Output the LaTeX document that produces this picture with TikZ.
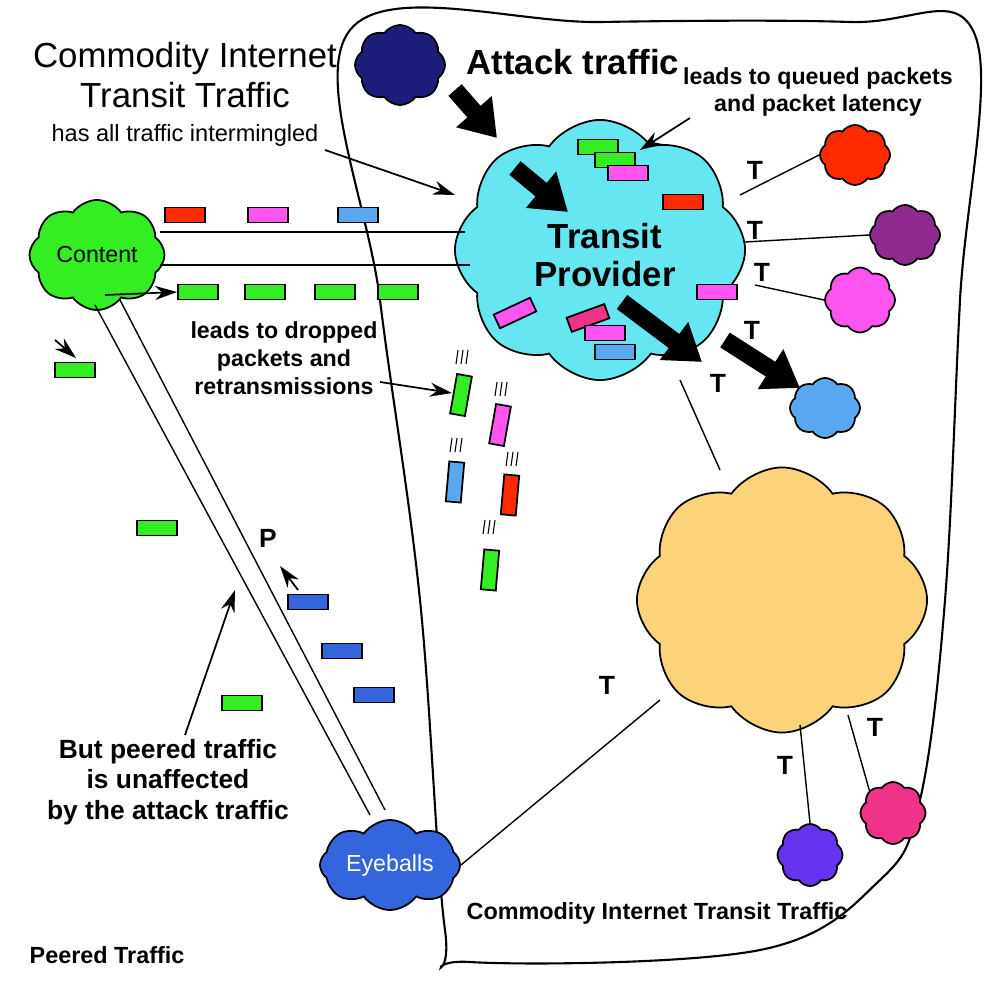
\documentclass[tikz,border=0pt]{standalone}
\usepackage{fontspec}
\setmainfont{Liberation Sans}
\usetikzlibrary{shapes.symbols,arrows.meta}
\definecolor{navy}{HTML}{1C1C7A}
\definecolor{cyanc}{HTML}{66E6F0}
\definecolor{greenc}{HTML}{33EE22}
\definecolor{bluec}{HTML}{3366DD}
\definecolor{orangec}{HTML}{FCD27A}
\definecolor{redc}{HTML}{FF2A00}
\definecolor{purplec}{HTML}{8E2A90}
\definecolor{magc}{HTML}{FF55F0}
\definecolor{lbluec}{HTML}{5AA8F0}
\definecolor{violetc}{HTML}{6633EE}
\definecolor{pinkc}{HTML}{EE3388}
\definecolor{pktblue}{HTML}{3366DD}
\begin{document}
\begin{tikzpicture}[x=0.01cm,y=-0.01cm,
  cl/.style={cloud, cloud puffs=8, cloud puff arc=110, cloud ignores aspect, draw=black, line width=0.5pt, inner sep=0},
  pkt/.style={draw, line width=0.5pt, minimum width=0.4cm, minimum height=0.15cm, inner sep=0},
  big/.style={font=\fontsize{9.9}{11.2}\selectfont, align=center},
  bbig/.style={font=\bfseries\fontsize{9.9}{11}\selectfont, align=center},
  sm/.style={font=\fontsize{6.7}{7.8}\selectfont, align=center},
  bsm/.style={font=\bfseries\fontsize{6.6}{7.9}\selectfont, align=center},
  bmid/.style={font=\bfseries\fontsize{7.5}{8.6}\selectfont, align=center},
  tl/.style={font=\bfseries\fontsize{7.5}{8}\selectfont},
  fat/.style={line width=5pt, -{Triangle[length=0.35cm,width=0.45cm]}},
  thin/.style={line width=0.5pt, -{Stealth[length=0.22cm,width=0.14cm]}}]
\useasboundingbox (0,0) rectangle (1000,994);
% region outline
\draw[line width=0.6pt] plot[smooth cycle, tension=0.6] coordinates {(350,30) (600,22) (850,22) (975,35) (960,300) (945,600) (920,800) (880,880) (760,950) (470,962) (445,930) (420,600) (380,300)};
% clouds
\node[cl, fill=cyanc, minimum width=2.9cm, minimum height=2.6cm] (tp) at (600,250) {};
\node[bbig] at (605,255) {Transit\\Provider};
\node[cl, fill=navy, minimum width=0.9cm, minimum height=0.8cm] (atk) at (400,65) {};
\node[cl, fill=greenc, minimum width=1.35cm, minimum height=1.1cm, font=\fontsize{6.6}{7}\selectfont] (content) at (97,255) {Content};
\node[cl, fill=bluec, minimum width=1.4cm, minimum height=0.9cm, font=\fontsize{6.6}{7}\selectfont, text=white] (eye) at (390,865) {Eyeballs};
\node[cl, fill=orangec, minimum width=2.9cm, minimum height=2.65cm] (org) at (782,600) {};
\node[cl, fill=redc, minimum width=0.7cm, minimum height=0.6cm] (c1) at (855,155) {};
\node[cl, fill=purplec, minimum width=0.7cm, minimum height=0.6cm] (c2) at (905,235) {};
\node[cl, fill=magc, minimum width=0.7cm, minimum height=0.65cm] (c3) at (860,300) {};
\node[cl, fill=lbluec, minimum width=0.7cm, minimum height=0.6cm] (c4) at (825,408) {};
\node[cl, fill=violetc, minimum width=0.65cm, minimum height=0.62cm] (c5) at (810,855) {};
\node[cl, fill=pinkc, minimum width=0.65cm, minimum height=0.62cm] (c6) at (893,813) {};
% links
\coordinate (t1) at (740,195); \coordinate (t2) at (745,242); \coordinate (t3) at (755,285);
\draw (t1) -- (c1.west); \draw (t2) -- (c2.west); \draw (t3) -- (c3.west);
\coordinate (tb) at (680,380); \coordinate (ot) at (720,470);
\draw (tb) -- (ot);
\coordinate (o1) at (800,725); \coordinate (o2) at (848,715); \coordinate (o3) at (660,700);
\draw (o1) -- (c5.north); \draw (o2) -- (c6.north west);
\draw (eye.east) -- (o3);
\coordinate (ca) at (160,232); \coordinate (cb) at (160,265); \coordinate (ta) at (465,232); \coordinate (tb2) at (470,265);
\draw (ca) -- (ta); \draw (cb) -- (tb2);
\coordinate (cc) at (95,305); \coordinate (cd) at (120,300); \coordinate (ea) at (370,815); \coordinate (eb) at (385,810);
\draw (cc) -- (ea); \draw (cd) -- (eb);
% T labels
\node[tl] at (755,170) {T}; \node[tl] at (755,230) {T}; \node[tl] at (762,272) {T};
\node[tl] at (752,330) {T}; \node[tl] at (718,383) {T}; \node[tl] at (785,765) {T};
\node[tl] at (875,727) {T}; \node[tl] at (607,685) {T}; \node[tl] at (268,538) {P};
% fat arrows
\coordinate (a1) at (455,90); \coordinate (a2) at (497,138);
\coordinate (a3) at (515,168); \coordinate (a4) at (568,212);
\coordinate (a5) at (622,302); \coordinate (a6) at (702,362);
\coordinate (a7) at (725,340); \coordinate (a8) at (800,388);
\draw[fat] (a1) -- (a2); \draw[fat] (a3) -- (a4); \draw[fat] (a5) -- (a6); \draw[fat] (a7) -- (a8);
% packets
\node[pkt, fill=redc] (p1) at (185,215) {};
\node[pkt, fill=magc] (p2) at (268,215) {};
\node[pkt, fill=lbluec] (p3) at (358,215) {};
\node[pkt, fill=greenc] (g1) at (198,292) {};
\node[pkt, fill=greenc] (g2) at (265,292) {};
\node[pkt, fill=greenc] (g3) at (335,292) {};
\node[pkt, fill=greenc] (g4) at (398,292) {};
\node[pkt, fill=greenc] (g5) at (75,370) {};
\node[pkt, fill=greenc] (g6) at (157,528) {};
\node[pkt, fill=greenc] (g7) at (242,703) {};
\node[pkt, fill=pktblue] (b1) at (308,602) {};
\node[pkt, fill=pktblue] (b2) at (342,651) {};
\node[pkt, fill=pktblue] (b3) at (374,695) {};
\node[pkt, fill=greenc, rotate=80] (f1) at (461,395) {};
\node[pkt, fill=magc, rotate=80] (f2) at (500,425) {};
\node[pkt, fill=lbluec, rotate=85] (f3) at (455,482) {};
\node[pkt, fill=redc, rotate=85] (f4) at (510,495) {};
\node[pkt, fill=greenc, rotate=85] (f5) at (490,570) {};
\foreach \x/\y in {463/350,502/382,457/438,513/452,490/520}{
  \draw[line width=0.3pt] (\x-5,\y) -- ++(-2,14) (\x,\y) -- ++(-2,14) (\x+5,\y) -- ++(-2,14);}
\node[pkt, fill=greenc] (q1) at (598,147) {};
\node[pkt, fill=greenc] (q2) at (615,160) {};
\node[pkt, fill=magc] (q3) at (628,173) {};
\node[pkt, fill=redc] (q4) at (683,202) {};
\node[pkt, fill=magc] (q5) at (717,292) {};
\node[pkt, fill=magc, rotate=25] (q6) at (515,313) {};
\node[pkt, fill=pinkc, rotate=20] (q7) at (588,318) {};
\node[pkt, fill=magc] (q8) at (605,333) {};
\node[pkt, fill=lbluec] (q9) at (615,352) {};
% thin arrows
\coordinate (s1) at (105,295); \coordinate (s2) at (55,340); \coordinate (s2e) at (76,358);
\coordinate (s3) at (298,590); \coordinate (s4) at (280,566);
\draw[thin] (s1) -- (g1.west);
\draw[thin] (s2) -- (s2e);
\draw[thin] (s3) -- (s4);
% texts
\node[big] (ct) at (185,75) {Commodity Internet\\Transit Traffic};
\node[sm] (ht) at (185,135) {has all traffic intermingled};
\coordinate (h1) at (325,150); \coordinate (h2) at (455,195);
\draw[thin] (h1) -- (h2);
\node[bbig] (at) at (573,62) {Attack traffic};
\node[bsm] (lq) at (818,92) {leads to queued packets\\and packet latency};
\coordinate (l1) at (690,118); \coordinate (l2) at (640,150);
\draw[thin] (l1) -- (l2);
\node[bsm] (ld) at (284,358) {leads to dropped\\packets and\\retransmissions};
\coordinate (d1) at (380,382); \coordinate (d2) at (452,393);
\draw[thin] (d1) -- (d2);
\node[bmid] (bp) at (168,782) {But peered traffic\\is unaffected\\by the attack traffic};
\coordinate (u1) at (185,735); \coordinate (u2) at (235,590);
\draw[thin] (u1) -- (u2);
\node[font=\bfseries\fontsize{6.65}{7}\selectfont] (cit) at (657,913) {Commodity Internet Transit Traffic};
\node[font=\bfseries\fontsize{6.65}{7}\selectfont] (pt) at (107,955) {Peered Traffic};
\end{tikzpicture}
\end{document}
